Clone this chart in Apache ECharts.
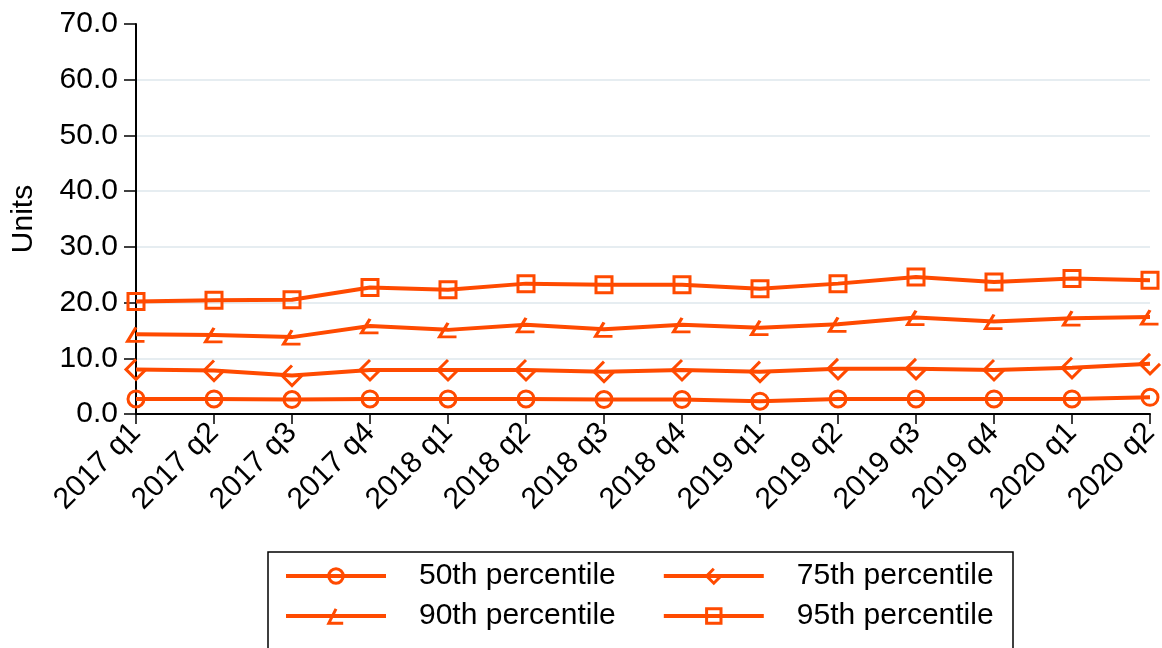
<!DOCTYPE html>
<html><head><meta charset="utf-8">
<script src="https://cdn.jsdelivr.net/npm/echarts@6/dist/echarts.min.js"></script>
<style>html,body{margin:0;padding:0;background:#fff}#c{width:1162px;height:648px}</style>
</head><body><div id="c"></div>
<script>
const categories = ['2017 q1','2017 q2','2017 q3','2017 q4','2018 q1','2018 q2','2018 q3','2018 q4','2019 q1','2019 q2','2019 q3','2019 q4','2020 q1','2020 q2'];
const p50 = [2.7, 2.7, 2.6, 2.7, 2.7, 2.7, 2.6, 2.6, 2.3, 2.7, 2.7, 2.7, 2.7, 3.0];
const p75 = [8.0, 7.8, 6.9, 7.9, 7.9, 7.9, 7.6, 7.9, 7.6, 8.1, 8.1, 7.9, 8.3, 9.0];
const p90 = [14.3, 14.2, 13.8, 15.8, 15.1, 16.0, 15.2, 16.0, 15.5, 16.1, 17.3, 16.6, 17.2, 17.4];
const p95 = [20.2, 20.4, 20.5, 22.7, 22.3, 23.4, 23.2, 23.2, 22.5, 23.4, 24.6, 23.7, 24.3, 24.0];
const seriesNames = ['50th percentile','75th percentile','90th percentile','95th percentile'];
const yMin = 0, yMax = 70, yStep = 10;

const COLOR = '#ff4a00';
const FONT = 'Liberation Sans, Arial, sans-serif';
const diamondOpen = 'path://M5 0 L0 5 L5 10 L10 5';
const triOpen = 'path://M6 0 L0 9 L12 9';

function mk(name, data, symbol, size) {
  return {
    name, type: 'line', data, symbol, symbolSize: size,
    showSymbol: true, clip: false,
    lineStyle: { color: COLOR, width: 4 },
    itemStyle: { color: 'transparent', borderColor: COLOR, borderWidth: 3 },
    emphasis: { disabled: true },
    animation: false
  };
}

const legendCommon = {
  left: 284, itemWidth: 100, itemHeight: 18, itemGap: 46, padding: 0,
  selectedMode: false,
  lineStyle: { width: 4 },
  itemStyle: { borderWidth: 3 },
  textStyle: { fontSize: 30, fontFamily: FONT, color: '#000', padding: [0,0,0,28] }
};

const chart = echarts.init(document.getElementById('c'), null, { renderer: 'canvas' });
chart.setOption({
  animation: false,
  backgroundColor: '#fff',
  grid: { left: 136, right: 12, top: 24, bottom: 234, containLabel: false, outerBoundsMode: 'none' },
  xAxis: {
    type: 'category', data: categories, boundaryGap: false,
    axisLine: { lineStyle: { color: '#000', width: 2 } },
    axisTick: { show: true, length: 10, lineStyle: { color: '#000', width: 1.5 } },
    axisLabel: { interval: 0, rotate: 45, fontSize: 30, fontFamily: FONT, color: '#000', margin: 14 },
    splitLine: { show: false }
  },
  yAxis: {
    type: 'value', min: yMin, max: yMax, interval: yStep,
    name: 'Units', nameLocation: 'middle', nameGap: 97,
    nameTextStyle: { fontSize: 30, fontFamily: FONT, color: '#000' },
    axisLine: { show: true, lineStyle: { color: '#000', width: 2 } },
    axisTick: { show: true, length: 12, lineStyle: { color: '#000', width: 1.5 } },
    axisLabel: { fontSize: 30, fontFamily: FONT, color: '#000', margin: 18, formatter: v => v.toFixed(1) },
    splitLine: { show: true, showMaxLine: false, lineStyle: { color: '#e6edf1', width: 2 } }
  },
  legend: [
    Object.assign({}, legendCommon, { data: [seriesNames[0], seriesNames[1]], top: 561 }),
    Object.assign({}, legendCommon, { data: [seriesNames[2], seriesNames[3]], top: 601 })
  ],
  graphic: [{ type: 'rect', silent: true, shape: { x: 268, y: 552, width: 745, height: 140 },
    style: { fill: 'none', stroke: '#000', lineWidth: 1.5 } }],
  series: [
    mk(seriesNames[0], p50, 'circle', 16),
    mk(seriesNames[1], p75, diamondOpen, 20),
    mk(seriesNames[2], p90, triOpen, [17, 14]),
    mk(seriesNames[3], p95, 'rect', 16)
  ]
});
</script></body></html>
